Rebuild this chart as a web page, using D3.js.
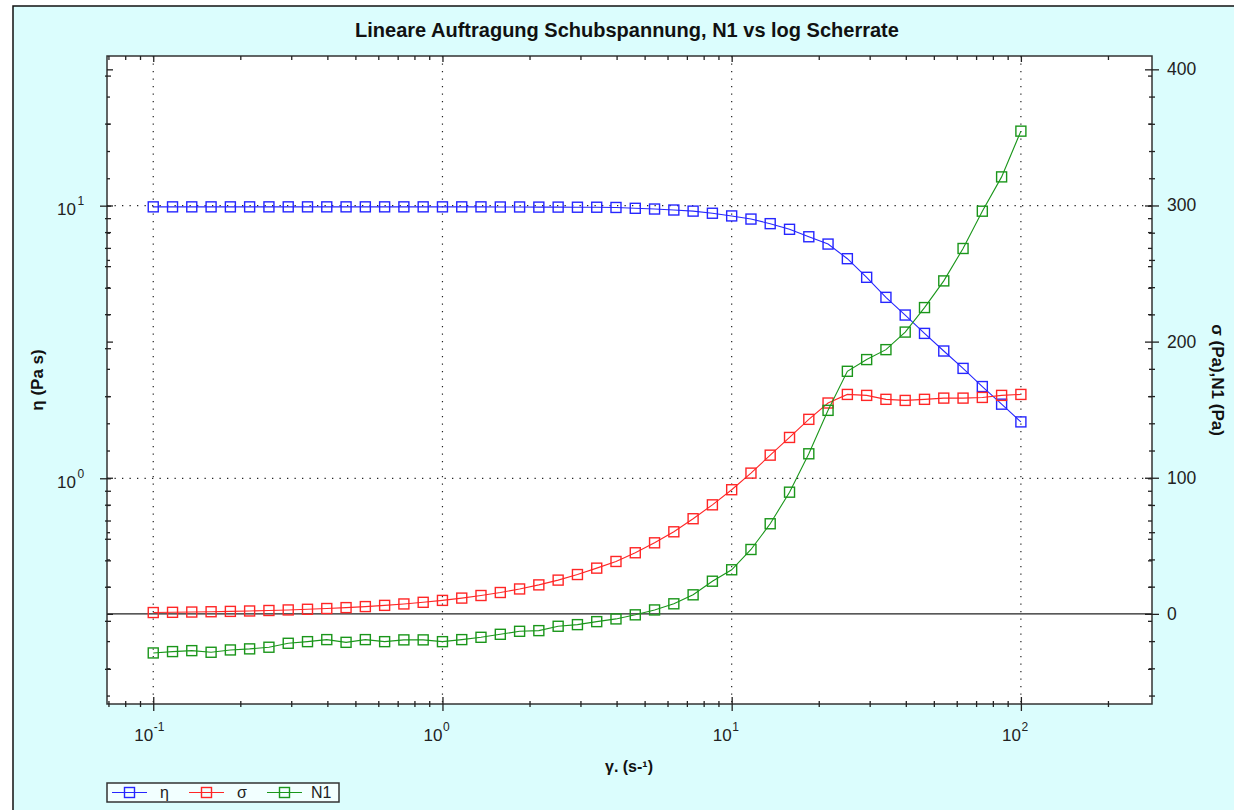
<!DOCTYPE html>
<html>
<head>
<meta charset="utf-8">
<script src="https://cdn.jsdelivr.net/npm/d3@7"></script>
<style>
  body { margin: 0; background: #fff; }
  text { font-family: "Liberation Sans", Arial, sans-serif; }
</style>
</head>
<body>
<div id="viz"></div>
<script>
// shear rate (1/s), 15 points per decade
const shearRate = [0.1, 0.1166, 0.1359, 0.1585, 0.1848, 0.2154, 0.2512, 0.2929, 0.3415, 0.3981,
  0.4642, 0.5412, 0.631, 0.7356, 0.8577, 1, 1.166, 1.359, 1.585, 1.848,
  2.154, 2.512, 2.929, 3.415, 3.981, 4.642, 5.412, 6.31, 7.356, 8.577,
  10, 11.66, 13.59, 15.85, 18.48, 21.54, 25.12, 29.29, 34.15, 39.81,
  46.42, 54.12, 63.1, 73.56, 85.77, 100];

// viscosity eta (Pa s) - left log axis
const eta = [9.9, 9.9, 9.9, 9.9, 9.9, 9.9, 9.9, 9.9, 9.9, 9.9,
  9.9, 9.9, 9.9, 9.9, 9.9, 9.9, 9.9, 9.9, 9.89, 9.89,
  9.88, 9.88, 9.87, 9.87, 9.85, 9.78, 9.72, 9.64, 9.55, 9.38,
  9.17, 8.93, 8.59, 8.19, 7.69, 7.23, 6.39, 5.46, 4.61, 3.97,
  3.40, 2.93, 2.53, 2.17, 1.87, 1.61];

// shear stress sigma (Pa) - right axis
const sigma = [0.99, 1.15, 1.35, 1.57, 1.83, 2.13, 2.49, 2.9, 3.38, 3.94,
  4.6, 5.36, 6.25, 7.29, 8.5, 9.91, 11.6, 13.5, 15.7, 18.3,
  21.3, 24.8, 28.9, 33.6, 38.5, 44.9, 52.2, 60.3, 69.9, 80.1,
  91.2, 103.4, 116.6, 129.6, 142.9, 154.9, 161.2, 160.5, 157.6, 156.8,
  157.6, 158.5, 158.5, 159.0, 160.5, 161.2];

// first normal stress difference N1 (Pa) - right axis
const n1 = [-28.7, -27.7, -27.0, -28.2, -26.5, -25.7, -24.5, -21.6, -20.4, -18.9,
  -20.9, -18.9, -20.4, -19.1, -19.1, -20.4, -18.9, -17.2, -15.0, -12.8,
  -12.3, -9.1, -7.9, -5.7, -3.7, -0.7, 2.9, 7.4, 14.0, 24.0,
  32.4, 47.3, 66.2, 89.4, 117.6, 149.5, 178.2, 186.8, 194.1, 207.0,
  225.0, 244.6, 268.4, 295.8, 321.0, 354.6];

// ticks
const xMajor = [0.1, 1, 10, 100];
const xMinor = [0.07, 0.08, 0.09, 0.2, 0.3, 0.4, 0.5, 0.6, 0.7, 0.8, 0.9,
  2, 3, 4, 5, 6, 7, 8, 9, 20, 30, 40, 50, 60, 70, 80, 90, 200];
const etaMajor = [1, 10];
const etaMinor = [0.2, 0.3, 0.4, 0.5, 0.6, 0.7, 0.8, 0.9, 2, 3, 4, 5, 6, 7, 8, 9, 20, 30];
const rMajor = [0, 100, 200, 300, 400];
const rMinor = [-60, -40, -20, 20, 40, 60, 80, 120, 140, 160, 180, 220, 240, 260, 280, 320, 340, 360, 380];

const colors = {eta: '#2626ff', sigma: '#ff2626', n1: '#1a961a'};

let margin = {top: 56, right: 82, bottom: 106, left: 107},
    W = 1234, H = 810,
    width = W - margin.left - margin.right,
    height = H - margin.top - margin.bottom;

let svg = d3.select('#viz').append('svg')
  .attr('width', W).attr('height', H);

// cyan panel with black top/left frame
svg.append('rect').attr('x', 13).attr('y', 6).attr('width', W + 10).attr('height', H + 10)
  .attr('fill', '#dbfdfd').attr('stroke', '#111').attr('stroke-width', 1.5);

let g = svg.append('g').attr('transform', `translate(${margin.left},${margin.top})`);

g.append('rect').attr('width', width).attr('height', height).attr('fill', '#fff');

let x = d3.scaleLog().domain([0.0692, 284]).range([0, width]);
let yL = d3.scaleLog().domain([0.1486, 35.4]).range([height, 0]);
let yR = d3.scaleLinear().domain([-66.2, 409.8]).range([height, 0]);

// dotted grid
let grid = g.append('g').attr('stroke', '#222').attr('stroke-width', 1.2).attr('stroke-dasharray', '1.3,6.2');
grid.selectAll('.gx').data(xMajor).join('line')
  .attr('x1', d => x(d)).attr('x2', d => x(d)).attr('y1', 0).attr('y2', height);
grid.selectAll('.gy').data(etaMajor).join('line')
  .attr('y1', d => yL(d)).attr('y2', d => yL(d)).attr('x1', 0).attr('x2', width);

// zero line of right axis
g.append('line').attr('x1', 0).attr('x2', width).attr('y1', yR(0)).attr('y2', yR(0))
  .attr('stroke', '#222').attr('stroke-width', 1.4);

g.append('clipPath').attr('id', 'clip').append('rect').attr('width', width).attr('height', height);
let plot = g.append('g').attr('clip-path', 'url(#clip)');

let series = [
  {key: 'eta', vals: eta, y: yL},
  {key: 'sigma', vals: sigma, y: yR},
  {key: 'n1', vals: n1, y: yR}
];

series.forEach(s => {
  let pts = shearRate.map((r, i) => [x(r), s.y(s.vals[i])]);
  plot.append('path').attr('d', d3.line()(pts))
    .attr('fill', 'none').attr('stroke', colors[s.key]).attr('stroke-width', 1.1);
  plot.selectAll('.m-' + s.key).data(pts).join('rect')
    .attr('x', d => d[0] - 5).attr('y', d => d[1] - 5)
    .attr('width', 10).attr('height', 10)
    .attr('fill', 'none').attr('stroke', colors[s.key]).attr('stroke-width', 1.4);
});

// frame
g.append('rect').attr('width', width).attr('height', height)
  .attr('fill', 'none').attr('stroke', '#333').attr('stroke-width', 1.5);

// helper: ticks only (no domain, no labels)
function ticks(axis, tx, ty) {
  let a = g.append('g').attr('transform', `translate(${tx},${ty})`)
    .call(axis.tickFormat(''));
  a.select('.domain').remove();
  a.selectAll('line').attr('stroke', '#222').attr('stroke-width', 1.3);
  return a;
}

// left axis: log ticks crossing, linear ticks inward
ticks(d3.axisLeft(yL).tickValues(etaMajor).tickSize(11), 4, 0);
ticks(d3.axisLeft(yL).tickValues(etaMinor).tickSize(6), 4, 0);
ticks(d3.axisRight(yR).tickValues(rMajor).tickSize(6), 0, 0);
ticks(d3.axisRight(yR).tickValues(rMinor).tickSize(3), 0, 0);

// right axis: linear ticks crossing, log ticks inward
ticks(d3.axisRight(yR).tickValues(rMajor).tickSize(14), width - 7, 0);
ticks(d3.axisRight(yR).tickValues(rMinor).tickSize(6), width - 3, 0);
ticks(d3.axisLeft(yL).tickValues(etaMajor.concat(etaMinor)).tickSize(4), width, 0);

// top axis inward, bottom axis crossing
ticks(d3.axisBottom(x).tickValues(xMajor).tickSize(6), 0, 0);
ticks(d3.axisBottom(x).tickValues(xMinor).tickSize(4), 0, 0);
ticks(d3.axisBottom(x).tickValues(xMajor).tickSize(14), 0, height - 7);
ticks(d3.axisBottom(x).tickValues(xMinor).tickSize(6), 0, height - 3);

// tick labels
const labelColor = '#222';
let xl = g.append('g').attr('fill', labelColor);
xMajor.forEach(v => {
  let e = Math.round(Math.log10(v));
  xl.append('text').attr('x', x(v)).attr('y', height + 37).attr('text-anchor', 'end')
    .style('font-size', '17px').text('10');
  xl.append('text').attr('x', x(v) + 0.5).attr('y', height + 27).attr('text-anchor', 'start')
    .style('font-size', '12px').text(e);
});

let yl = g.append('g').attr('fill', labelColor);
etaMajor.forEach(v => {
  let e = Math.round(Math.log10(v));
  yl.append('text').attr('x', -31).attr('y', yL(v) + 9.5).attr('text-anchor', 'end')
    .style('font-size', '17px').text('10');
  yl.append('text').attr('x', -29.5).attr('y', yL(v) - 0.5).attr('text-anchor', 'start')
    .style('font-size', '12px').text(e);
});

let yr = g.append('g').attr('fill', labelColor);
yr.selectAll('text').data(rMajor).join('text')
  .attr('x', width + 15).attr('y', d => yR(d) + 6)
  .style('font-size', '17.5px').text(d => d);

// titles
svg.append('text').attr('x', 627).attr('y', 37).attr('text-anchor', 'middle')
  .style('font-size', '20px').style('font-weight', 'bold').attr('fill', '#111')
  .text('Lineare Auftragung Schubspannung, N1 vs log Scherrate');

svg.append('text').attr('x', 629).attr('y', 772).attr('text-anchor', 'middle')
  .style('font-size', '16px').style('font-weight', 'bold').attr('fill', '#111')
  .text('γ. (s-¹)');

svg.append('text').attr('transform', 'translate(43,380) rotate(-90)').attr('text-anchor', 'middle')
  .style('font-size', '17px').style('font-weight', 'bold').attr('fill', '#111')
  .text('η (Pa s)');

svg.append('text').attr('transform', 'translate(1212,380) rotate(90)').attr('text-anchor', 'middle')
  .style('font-size', '17px').style('font-weight', 'bold').attr('fill', '#111')
  .text('σ (Pa),N1 (Pa)');

// legend
const legendItems = [
  {key: 'eta', label: 'η', x0: 112, tx: 160},
  {key: 'sigma', label: 'σ', x0: 189, tx: 237},
  {key: 'n1', label: 'N1', x0: 267, tx: 311}
];
let lg = svg.append('g');
lg.append('rect').attr('x', 107).attr('y', 783).attr('width', 232).attr('height', 19)
  .attr('fill', '#f2ffff').attr('stroke', '#333').attr('stroke-width', 1.5);
legendItems.forEach(it => {
  lg.append('line').attr('x1', it.x0).attr('x2', it.x0 + 35).attr('y1', 792.5).attr('y2', 792.5)
    .attr('stroke', colors[it.key]).attr('stroke-width', 1.1);
  lg.append('rect').attr('x', it.x0 + 12.5).attr('y', 787.5).attr('width', 10).attr('height', 10)
    .attr('fill', 'none').attr('stroke', colors[it.key]).attr('stroke-width', 1.4);
  lg.append('text').attr('x', it.tx).attr('y', 798).style('font-size', '16px')
    .attr('fill', '#222').text(it.label);
});
</script>
</body>
</html>
